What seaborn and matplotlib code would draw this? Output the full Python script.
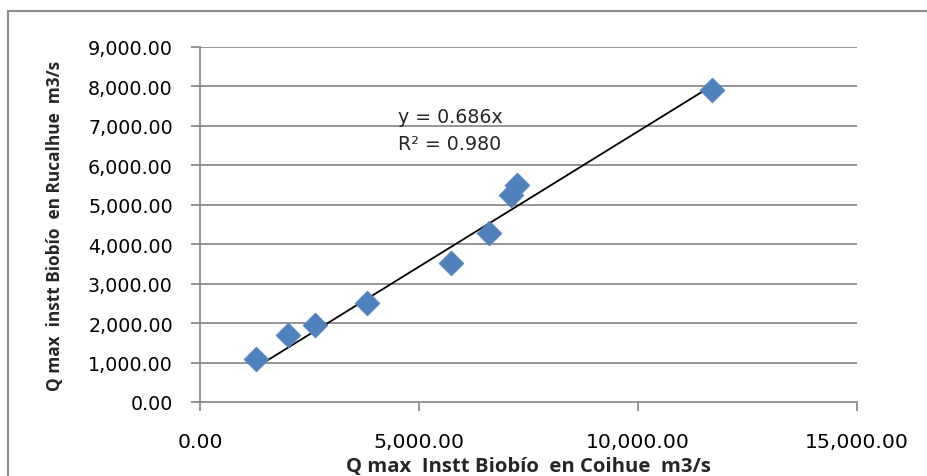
import matplotlib
matplotlib.use("Agg")
import matplotlib.pyplot as plt
from matplotlib.patches import Rectangle
from matplotlib.ticker import FuncFormatter, MultipleLocator
import numpy as np
import pandas as pd
import seaborn as sns

# Peak instantaneous discharge (m3/s) at the two Biobío stations
coihue = [1279, 2009, 2626, 3813, 5731, 6598, 7100, 7237, 11689]
rucalhue = [1090, 1699, 1952, 2510, 3524, 4285, 5248, 5502, 7911]
slope = 0.686
r2 = 0.980

df = pd.DataFrame({"coihue": coihue, "rucalhue": rucalhue})

sns.set_theme(style="white")
plt.rcParams["font.family"] = ["DejaVu Sans"]

fig = plt.figure(figsize=(9.28, 4.77), dpi=100, facecolor="white")
ax = fig.add_axes([200 / 928, 74 / 477, 657 / 928, 355 / 477])

grid_c = "#8c8c8c"
ax.set_xlim(0, 15000)
ax.set_ylim(0, 9000)
ax.yaxis.set_major_locator(MultipleLocator(1000))
ax.xaxis.set_major_locator(MultipleLocator(5000))
for yv in range(1000, 9001, 1000):
    ax.axhline(yv, color=grid_c, lw=1.3, zorder=0)

# Linear trend through the origin over the observed range
xs = np.array([min(coihue), max(coihue)])
ax.plot(xs, slope * xs, color="black", lw=1.3, zorder=2)

sns.scatterplot(data=df, x="coihue", y="rucalhue", ax=ax, marker="D",
                s=160, color="#4F81BD", edgecolor="#4F81BD", linewidth=0.5,
                zorder=3)

fmt = FuncFormatter(lambda v, p: f"{v:,.2f}")
ax.xaxis.set_major_formatter(fmt)
ax.yaxis.set_major_formatter(fmt)

for side in ("top", "right"):
    ax.spines[side].set_visible(False)
for side in ("left", "bottom"):
    ax.spines[side].set_color(grid_c)
    ax.spines[side].set_linewidth(1.3)

ax.tick_params(axis="both", which="major", direction="out", length=6.5,
               width=1.3, color=grid_c, labelsize=13.7, labelcolor="black",
               left=True, bottom=True)
ax.tick_params(axis="x", labelsize=14.7)
ax.tick_params(axis="y", pad=13)
ax.tick_params(axis="x", pad=15)

label_font = ["Open Sans", "DejaVu Sans"]
ax.set_xlabel("Q max  Instt Biobío  en Coihue  m3/s", fontsize=14.6,
              fontweight="bold", family=label_font, labelpad=3.5)
ax.set_ylabel("Q max  instt Biobío  en Rucalhue  m3/s", fontsize=12.4,
              fontweight="bold", family=label_font, labelpad=17)

ax.text(4520, 7099, f"y = {slope:.3f}x", fontsize=13.7, ha="left", va="baseline")
ax.text(4520, 6415, f"R² = {r2:.3f}", fontsize=13.7, ha="left", va="baseline")

# Chart-area frame; only its top and left edges fall inside the image
fig.add_artist(Rectangle((8 / 928, -0.5), 2.0, 0.5 + 1 - 12 / 477,
                         transform=fig.transFigure, fill=False,
                         edgecolor=grid_c, lw=1.5))

fig.savefig("out.png", dpi=100, facecolor="white")
